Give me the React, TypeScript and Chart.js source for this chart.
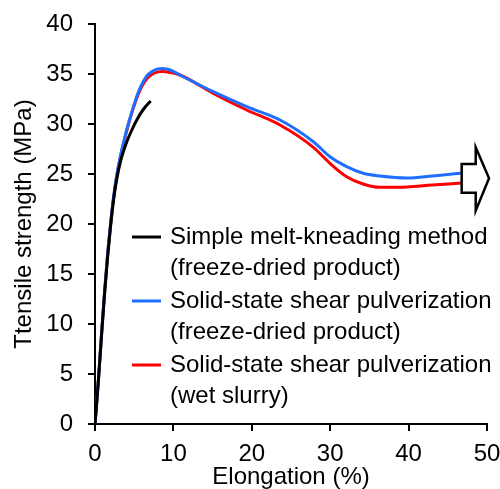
import React, { useEffect, useRef } from 'react';
import { Chart, registerables } from 'chart.js';

Chart.register(...registerables);

// Series data (Elongation %, Tensile strength MPa)
const blackX = [0, 0.4, 0.8, 1.2, 1.6, 2.0, 2.4, 2.8, 3.3, 4.0, 4.7, 5.4, 6.2, 7.1];
const blackY = [0, 4.0, 8.5, 12.8, 16.6, 19.9, 22.6, 24.6, 26.4, 28.1, 29.4, 30.5, 31.5, 32.3];

const blueX = [0, 0.4, 0.8, 1.2, 1.6, 2.0, 2.4, 2.8, 3.3, 3.75, 4.21, 4.85, 5.48, 6.0, 6.7, 7.6, 8.6, 9.6, 10.84, 15.09, 19.35, 23.6, 27.85, 29.97, 32.1, 34.2, 36.35, 39.8, 43.0, 46.8];
const blueY = [0, 4.0, 8.6, 13.0, 16.9, 20.1, 22.9, 25.0, 27.0, 28.5, 29.9, 31.6, 33.1, 34.0, 34.9, 35.4, 35.55, 35.4, 34.9, 33.23, 31.73, 30.4, 28.23, 26.73, 25.73, 25.07, 24.8, 24.6, 24.8, 25.1];

const redX = [0, 0.4, 0.8, 1.2, 1.6, 2.0, 2.4, 2.8, 3.3, 3.75, 4.21, 4.85, 5.48, 6.0, 6.7, 7.6, 8.6, 9.6, 10.84, 15.09, 19.35, 23.6, 27.85, 29.97, 32.1, 34.2, 36.35, 39.8, 43.0, 46.8];
const redY = [0, 4.0, 8.6, 13.0, 16.9, 20.0, 22.8, 24.9, 26.9, 28.4, 29.8, 31.5, 32.9, 33.8, 34.6, 35.1, 35.25, 35.15, 34.9, 33.07, 31.4, 29.9, 27.67, 26.07, 24.73, 24.0, 23.67, 23.7, 23.9, 24.1];

const seriesLabels = [
  ['Simple melt-kneading method', '(freeze-dried product)'],
  ['Solid-state shear pulverization', '(freeze-dried product)'],
  ['Solid-state shear pulverization', '(wet slurry)'],
];
const seriesColors = ['#000000', '#1f6fff', '#ff0000'];

// Arrow outline (data coordinates)
const arrowX = [46.77, 48.56, 48.56, 50.26, 48.56, 48.56, 46.77];
const arrowY = [26.0, 26.0, 27.67, 24.57, 21.33, 23.13, 23.13];

const xTitle = 'Elongation (%)';
const yTitle = 'Ttensile strength (MPa)';

const FONT = "'Liberation Sans', Arial, sans-serif";

function pts(xs: number[], ys: number[]) {
  return xs.map((x, i) => ({ x, y: ys[i] }));
}

export default function App() {
  const ref = useRef<HTMLCanvasElement | null>(null);

  useEffect(() => {
    document.body.style.margin = '0';
    const canvas = ref.current;
    if (!canvas) return;

    const arrowPlugin = {
      id: 'arrowPlugin',
      afterDatasetsDraw(chart: any) {
        const { ctx, scales } = chart;
        const xs = scales.x;
        const ys = scales.y;
        ctx.save();
        ctx.beginPath();
        arrowX.forEach((v, i) => {
          const px = xs.getPixelForValue(v);
          const py = ys.getPixelForValue(arrowY[i]);
          if (i === 0) ctx.moveTo(px, py);
          else ctx.lineTo(px, py);
        });
        ctx.closePath();
        ctx.fillStyle = '#ffffff';
        ctx.fill();
        ctx.lineWidth = 2.5;
        ctx.strokeStyle = '#000000';
        ctx.lineJoin = 'miter';
        ctx.stroke();
        ctx.restore();
      },
    };

    const legendPlugin = {
      id: 'customLegend',
      afterDraw(chart: any) {
        const { ctx, chartArea } = chart;
        const left = chartArea.left;
        const top = chartArea.top;
        ctx.save();
        ctx.font = `24px ${FONT}`;
        ctx.textBaseline = 'middle';
        ctx.textAlign = 'left';
        seriesLabels.forEach((lines, i) => {
          const y0 = top + 213 + i * 64;
          ctx.beginPath();
          ctx.strokeStyle = seriesColors[i];
          ctx.lineWidth = 3;
          ctx.moveTo(left + 37, y0);
          ctx.lineTo(left + 66, y0);
          ctx.stroke();
          ctx.fillStyle = '#000';
          lines.forEach((t, j) => {
            ctx.fillText(t, left + 75, y0 + j * 31);
          });
        });
        ctx.restore();
      },
    };

    const chart = new Chart(canvas, {
      type: 'line',
      data: {
        datasets: [
          { label: seriesLabels[0].join(' '), data: pts(blackX, blackY), borderColor: seriesColors[0] },
          { label: seriesLabels[1].join(' '), data: pts(blueX, blueY), borderColor: seriesColors[1] },
          { label: seriesLabels[2].join(' '), data: pts(redX, redY), borderColor: seriesColors[2] },
        ].map((d) => ({
          ...d,
          borderWidth: 3,
          pointRadius: 0,
          fill: false,
          cubicInterpolationMode: 'monotone' as const,
        })),
      },
      options: {
        animation: false,
        responsive: false,
        maintainAspectRatio: false,
        layout: { padding: { left: 0, top: 24, right: 13, bottom: 0 } },
        plugins: { legend: { display: false }, tooltip: { enabled: false } },
        scales: {
          x: {
            type: 'linear',
            min: 0,
            max: 50,
            afterFit: (s: any) => {
              s.height = 65;
              s.paddingLeft = 0;
              s.paddingRight = 0;
            },
            ticks: { stepSize: 10, color: '#000', font: { family: FONT, size: 24 }, padding: 9, maxRotation: 0 },
            grid: { drawOnChartArea: false, drawTicks: true, tickLength: 7, tickColor: '#000', tickWidth: 2, color: '#000', lineWidth: 2 },
            border: { display: true, color: '#000', width: 2 },
            title: { display: true, text: xTitle, color: '#000', font: { family: FONT, size: 24, lineHeight: 1.2 }, padding: { top: 0, bottom: -3 } },
          },
          y: {
            type: 'linear',
            min: 0,
            max: 40,
            afterFit: (s: any) => {
              s.width = 95;
              s.paddingTop = 0;
              s.paddingBottom = 0;
            },
            ticks: { stepSize: 5, color: '#000', font: { family: FONT, size: 24 }, padding: 15 },
            grid: { drawOnChartArea: false, drawTicks: true, tickLength: 7, tickColor: '#000', tickWidth: 2, color: '#000', lineWidth: 2 },
            border: { display: true, color: '#000', width: 2 },
            title: { display: true, text: yTitle, color: '#000', font: { family: FONT, size: 24, lineHeight: 1.2 }, padding: { top: 10, bottom: 0 } },
          },
        },
      },
      plugins: [arrowPlugin, legendPlugin],
    });

    return () => chart.destroy();
  }, []);

  return (
    <div style={{ width: 500, height: 489, position: 'relative' }}>
      <canvas ref={ref} width={500} height={489} style={{ display: 'block', width: 500, height: 489 }} />
    </div>
  );
}
